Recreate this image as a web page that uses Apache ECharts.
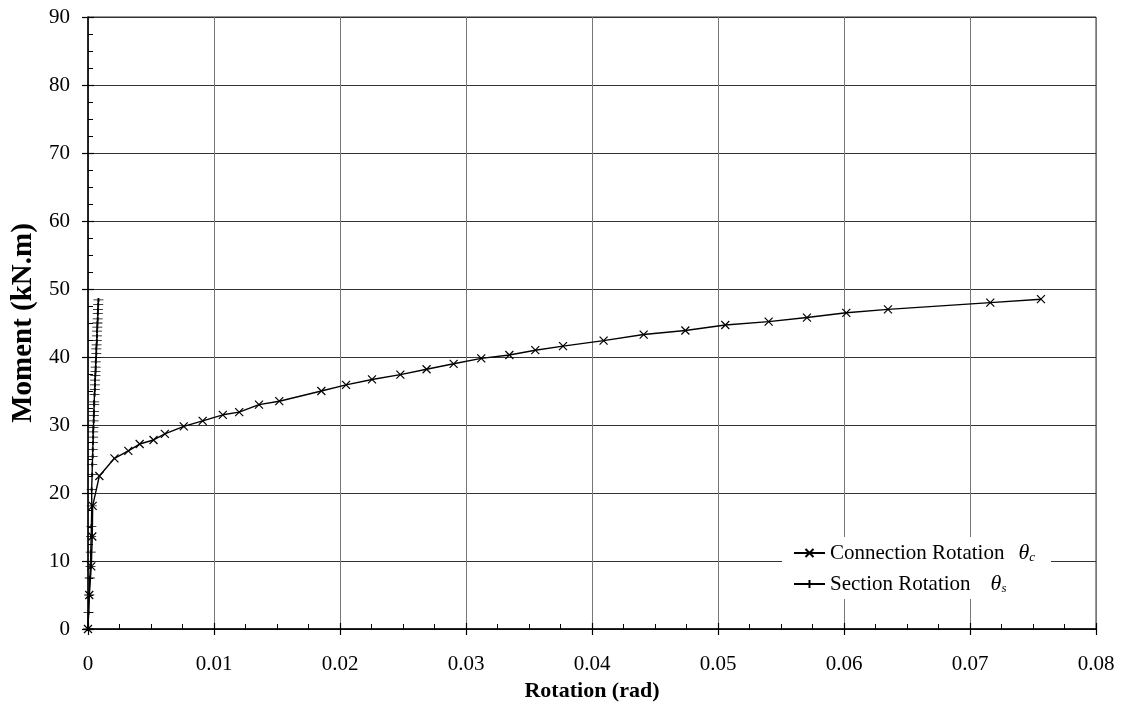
<!DOCTYPE html>
<html>
<head>
<meta charset="utf-8">
<script src="https://cdn.jsdelivr.net/npm/echarts@6/dist/echarts.min.js"></script>
<style>
  html, body { margin: 0; padding: 0; background: #fff; }
  #chart { width: 1125px; height: 721px; }
</style>
</head>
<body>
<div id="chart"></div>
<script>
// Connection rotation (rad) vs moment (kN.m)
const connRotation = [0, 0.0001, 0.00026, 0.00034, 0.00037, 0.0009, 0.0021, 0.0032, 0.0041, 0.0052,
  0.0061, 0.0076, 0.0091, 0.0107, 0.0120, 0.01357, 0.01518, 0.01852, 0.02048, 0.02254,
  0.02479, 0.02687, 0.02902, 0.03121, 0.03344, 0.0355, 0.0377, 0.04092, 0.0441, 0.04741,
  0.05058, 0.05402, 0.05706, 0.06018, 0.06349, 0.07161, 0.07563];
const connMoment = [0, 5.0, 9.2, 13.6, 18.1, 22.5, 25.1, 26.2, 27.2, 27.8,
  28.7, 29.8, 30.6, 31.5, 31.9, 33.0, 33.5, 35.0, 35.9, 36.7,
  37.4, 38.2, 39.0, 39.8, 40.3, 41.0, 41.6, 42.4, 43.3, 43.9,
  44.7, 45.2, 45.8, 46.5, 47.0, 48.0, 48.5];

// Section rotation (rad) vs moment (kN.m)
const secRotation = [0, 0.00004, 0.0001, 0.00014, 0.0002, 0.00022, 0.00025, 0.00027, 0.0003, 0.00029,
  0.00033, 0.00034, 0.00037, 0.00038, 0.0004, 0.00041, 0.00041, 0.00043, 0.00045, 0.00046,
  0.00047, 0.00049, 0.00049, 0.00052, 0.00054, 0.00055, 0.00056, 0.00058, 0.0006, 0.00061,
  0.00062, 0.00064, 0.00066, 0.00066, 0.00068, 0.0007, 0.00071, 0.00072, 0.00074, 0.00075,
  0.00077, 0.00078, 0.00079, 0.00081, 0.00083];
const secMoment = [0, 2.4, 5.0, 7.5, 9.2, 11.3, 13.6, 15.1, 18.1, 20.5,
  22.7, 24.2, 25.4, 26.4, 27.4, 28.2, 29.0, 29.6, 30.6, 31.4,
  32.0, 33.0, 33.4, 34.5, 35.2, 35.9, 36.6, 37.3, 37.9, 38.5,
  39.3, 39.9, 40.5, 41.2, 41.8, 42.4, 43.1, 43.8, 44.4, 45.0,
  45.6, 46.4, 47.0, 47.7, 48.4];

const xTicks = { min: 0, max: 0.08, interval: 0.01 };
const yTicks = { min: 0, max: 90, interval: 10 };

const seriesNames = ['Connection Rotation', 'Section Rotation'];
const seriesSymbols = ['c', 's'];

const FONT = 'Liberation Serif';
const CROSS = 'path://M0,0L10,10M10,0L0,10';
const PLUS = 'path://M0,5L10,5M5,3L5,7';

const zip = (xs, ys) => xs.map((x, i) => [x, ys[i]]);

const chart = echarts.init(document.getElementById('chart'), null, { renderer: 'canvas' });

const baseX = {
  type: 'value', min: xTicks.min, max: xTicks.max, interval: xTicks.interval,
  gridIndex: 0, position: 'bottom'
};
const baseY = {
  type: 'value', min: yTicks.min, max: yTicks.max, interval: yTicks.interval,
  gridIndex: 0, position: 'left'
};

chart.setOption({
  backgroundColor: '#fff',
  animation: false,
  grid: {
    left: 88, right: 29, top: 17, bottom: 92,
    containLabel: false, outerBoundsMode: 'none',
    show: true, borderColor: '#333', borderWidth: 1
  },
  xAxis: [
    Object.assign({}, baseX, {
      name: 'Rotation (rad)', nameLocation: 'middle', nameGap: 50,
      nameTextStyle: { fontFamily: FONT, fontSize: 22, fontWeight: 'bold', color: '#000' },
      axisLine: { show: true, lineStyle: { color: '#000', width: 1.5 } },
      axisTick: { show: true, inside: true, length: 6, lineStyle: { color: '#000', width: 1.2 } },
      minorTick: { show: true, splitNumber: 4, length: 5, lineStyle: { color: '#000', width: 1 } },
      axisLabel: { fontFamily: FONT, fontSize: 21, color: '#000', margin: 25,
        formatter: v => String(+v.toFixed(2)) },
      splitLine: { show: true, lineStyle: { color: '#777', width: 1 } }
    }),
    Object.assign({}, baseX, {
      axisLine: { show: false },
      axisTick: { show: true, inside: false, length: 6, lineStyle: { color: '#000', width: 1.2 } },
      axisLabel: { show: false },
      splitLine: { show: false }
    })
  ],
  yAxis: [
    Object.assign({}, baseY, {
      name: 'Moment (kN.m)', nameLocation: 'middle', nameGap: 50, nameRotate: 90,
      nameTextStyle: { fontFamily: FONT, fontSize: 29, fontWeight: 'bold', color: '#000' },
      axisLine: { show: true, lineStyle: { color: '#000', width: 1.5 } },
      axisTick: { show: true, inside: true, length: 6, lineStyle: { color: '#000', width: 1.2 } },
      minorTick: { show: true, splitNumber: 4, length: 5, lineStyle: { color: '#000', width: 1 } },
      axisLabel: { fontFamily: FONT, fontSize: 21, color: '#000', margin: 18 },
      splitLine: { show: true, lineStyle: { color: '#333', width: 1 } }
    }),
    Object.assign({}, baseY, {
      axisLine: { show: false },
      axisTick: { show: true, inside: false, length: 6, lineStyle: { color: '#000', width: 1.2 } },
      axisLabel: { show: false },
      splitLine: { show: false }
    })
  ],
  legend: {
    orient: 'vertical', left: 782, top: 537,
    backgroundColor: '#fff', padding: [5, 16, 4, 11], itemGap: 9,
    itemWidth: 31, itemHeight: 10,
    data: seriesNames,
    textStyle: {
      fontFamily: FONT, fontSize: 21, color: '#000',
      rich: {
        t: { fontFamily: FONT, fontSize: 21, color: '#000' },
        th: { fontFamily: FONT, fontSize: 22, fontStyle: 'italic', color: '#000', padding: [0, 0, 0, 14] },
        th2: { fontFamily: FONT, fontSize: 22, fontStyle: 'italic', color: '#000', padding: [0, 0, 0, 20] },
        sub: { fontFamily: FONT, fontSize: 13, fontStyle: 'italic', color: '#000', padding: [9, 0, 0, 0] }
      }
    },
    formatter: name => {
      const i = seriesNames.indexOf(name);
      return '{t|' + name + '}{' + (i === 0 ? 'th' : 'th2') + '|θ}{sub|' + seriesSymbols[i] + '}';
    }
  },
  series: [
    {
      name: seriesNames[0], type: 'line', xAxisIndex: 0, yAxisIndex: 0,
      data: zip(connRotation, connMoment),
      symbol: CROSS, symbolSize: 8, showAllSymbol: true,
      lineStyle: { color: '#000', width: 1.4 },
      itemStyle: { color: '#000', borderColor: '#000', borderWidth: 1.2 },
      z: 3
    },
    {
      name: seriesNames[1], type: 'line', xAxisIndex: 0, yAxisIndex: 0,
      data: zip(secRotation, secMoment),
      symbol: PLUS, symbolSize: [10, 4], showAllSymbol: true,
      lineStyle: { color: '#000', width: 1.4 },
      itemStyle: { color: '#000', borderColor: '#000', borderWidth: 1.2 },
      z: 4
    }
  ]
});
</script>
</body>
</html>
